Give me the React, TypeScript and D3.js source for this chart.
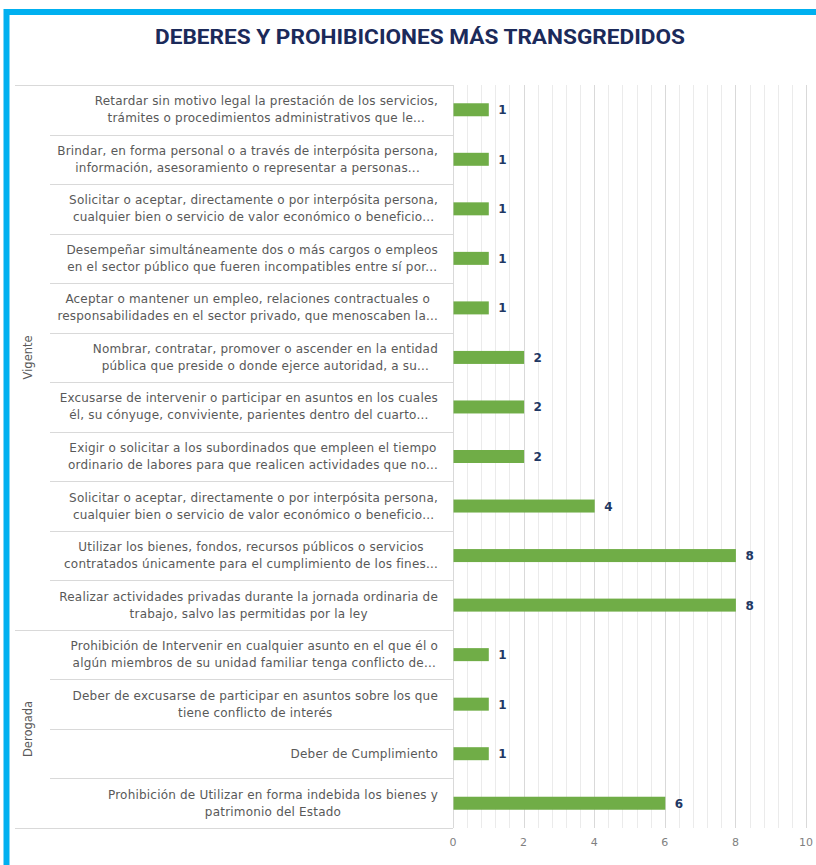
import React, { useEffect, useRef } from 'react'
import * as d3 from 'd3'

const groups = ['Vigente', 'Derogada']
const groupSizes = [11, 4]

const labels = [
  ['Retardar sin motivo legal la prestación de los servicios,', 'trámites o procedimientos administrativos que le...'],
  ['Brindar, en forma personal o a través de interpósita persona,', 'información, asesoramiento o representar a personas...'],
  ['Solicitar o aceptar, directamente o por interpósita persona,', 'cualquier bien o servicio de valor económico o beneficio...'],
  ['Desempeñar simultáneamente dos o más cargos o empleos', 'en el sector público que fueren incompatibles entre sí por...'],
  ['Aceptar o mantener un empleo, relaciones contractuales o', 'responsabilidades en el sector privado, que menoscaben la...'],
  ['Nombrar, contratar, promover o ascender en la entidad', 'pública que preside o donde ejerce autoridad, a su...'],
  ['Excusarse de intervenir o participar en asuntos en los cuales', 'él, su cónyuge, conviviente, parientes dentro del cuarto...'],
  ['Exigir o solicitar a los subordinados que empleen el tiempo', 'ordinario de labores para que realicen actividades que no...'],
  ['Solicitar o aceptar, directamente o por interpósita persona,', 'cualquier bien o servicio de valor económico o beneficio...'],
  ['Utilizar los bienes, fondos, recursos públicos o servicios', 'contratados únicamente para el cumplimiento de los fines...'],
  ['Realizar actividades privadas durante la jornada ordinaria de', 'trabajo, salvo las permitidas por la ley'],
  ['Prohibición de Intervenir en cualquier asunto en el que él o', 'algún miembros de su unidad familiar tenga conflicto de...'],
  ['Deber de excusarse de participar en asuntos sobre los que', 'tiene conflicto de interés'],
  ['Deber de Cumplimiento'],
  ['Prohibición de Utilizar en forma indebida los bienes y', 'patrimonio del Estado'],
]

const values = [1, 1, 1, 1, 1, 2, 2, 2, 4, 8, 8, 1, 1, 1, 6]

const W = 816
const H = 865
const left = 453
const right = 806
const top = 85
const bottom = 828
const textColor = '#595959'
const navy = '#1F3864'

function draw(svgEl: SVGSVGElement) {
  const svg = d3.select(svgEl)
  svg.selectAll('*').remove()

  const x = d3.scaleLinear().domain([0, 10]).range([left, right])
  const y = d3.scaleBand<number>().domain(d3.range(values.length)).range([top, bottom]).padding(0)

  // frame
  svg.append('rect').attr('x', 0).attr('y', 0).attr('width', W).attr('height', H).attr('fill', '#fff')
  svg.append('path')
    .attr('d', `M6.5,${H} V12 H${W}`)
    .attr('fill', 'none').attr('stroke', '#00B0F0').attr('stroke-width', 6)

  svg.append('text')
    .attr('x', 420).attr('y', 44)
    .attr('text-anchor', 'middle')
    .attr('font-family', 'Roboto, sans-serif')
    .attr('font-weight', 700)
    .attr('font-size', 20)
    .attr('fill', '#1B2A5A')
    .attr('textLength', 530)
    .attr('lengthAdjust', 'spacingAndGlyphs')
    .text('DEBERES Y PROHIBICIONES MÁS TRANSGREDIDOS')

  // grid lines (minor every 0.4, major every 2)
  const minor = d3.range(0, 26).map(d => d * 0.4)
  svg.append('g').selectAll('line').data(minor).enter().append('line')
    .attr('x1', d => Math.round(x(d)) + 0.5).attr('x2', d => Math.round(x(d)) + 0.5)
    .attr('y1', top).attr('y2', bottom)
    .attr('stroke', '#ebebeb').attr('stroke-width', 1)
  svg.append('g').selectAll('line').data(x.ticks(5)).enter().append('line')
    .attr('x1', d => Math.round(x(d)) + 0.5).attr('x2', d => Math.round(x(d)) + 0.5)
    .attr('y1', top).attr('y2', bottom)
    .attr('stroke', '#d9d9d9').attr('stroke-width', 1)

  // category separators
  const sep = svg.append('g').attr('stroke', '#d9d9d9').attr('stroke-width', 1)
  const groupStarts: number[] = []
  let acc = 0
  groupSizes.forEach(s => { groupStarts.push(acc); acc += s })
  d3.range(values.length + 1).forEach(i => {
    const yy = i < values.length ? y(i)! : bottom
    const full = i === 0 || i === values.length || groupStarts.includes(i)
    sep.append('line')
      .attr('x1', full ? 15 : 50).attr('x2', left)
      .attr('y1', Math.round(yy) + 0.5).attr('y2', Math.round(yy) + 0.5)
  })
  sep.append('line').attr('x1', left + 0.5).attr('x2', left + 0.5).attr('y1', top).attr('y2', bottom)

  // group labels
  groups.forEach((g, gi) => {
    const s = groupStarts[gi]
    const cy = (y(s)! + (s + groupSizes[gi] < values.length ? y(s + groupSizes[gi])! : bottom)) / 2
    svg.append('text')
      .attr('transform', `translate(32,${cy}) rotate(-90)`)
      .attr('text-anchor', 'middle')
      .attr('font-family', 'DejaVu Sans, sans-serif')
      .attr('font-size', 11.5)
      .attr('fill', textColor)
      .text(g)
  })

  // category labels
  const lab = svg.append('g')
    .attr('font-family', 'DejaVu Sans, sans-serif')
    .attr('font-size', 12)
    .attr('letter-spacing', 0.2)
    .attr('fill', textColor)
    .attr('text-anchor', 'middle')
  labels.forEach((lines, i) => {
    const cy = y(i)! + y.bandwidth() / 2
    const t = lab.append('text')
    lines.forEach((ln, k) => {
      t.append('tspan')
        .attr('x', 0)
        .attr('y', cy + (k - (lines.length - 1) / 2) * 17 + 4)
        .text(ln)
    })
    // right-align the block, lines centred within it
    const bb = (t.node() as SVGTextElement).getBBox()
    t.attr('transform', `translate(${438 - bb.width / 2},0)`)
  })

  // bars
  const barH = 13
  svg.append('g').selectAll('rect').data(values).enter().append('rect')
    .attr('x', x(0) + 0.5)
    .attr('y', (d, i) => y(i)! + y.bandwidth() / 2 - barH / 2)
    .attr('width', d => x(d) - x(0))
    .attr('height', barH)
    .attr('fill', '#70AD47')

  svg.append('g').selectAll('text').data(values).enter().append('text')
    .attr('x', d => x(d) + 10)
    .attr('y', (d, i) => y(i)! + y.bandwidth() / 2 + 4.5)
    .attr('font-family', 'DejaVu Sans, sans-serif')
    .attr('font-weight', 700)
    .attr('font-size', 12)
    .attr('fill', navy)
    .text(d => d)

  // x axis labels
  svg.append('g').selectAll('text').data(x.ticks(5)).enter().append('text')
    .attr('x', d => x(d))
    .attr('y', 846)
    .attr('text-anchor', 'middle')
    .attr('font-family', 'DejaVu Sans, sans-serif')
    .attr('font-size', 11)
    .attr('fill', '#7f7f7f')
    .text(d => d)
}

const App = () => {
  const ref = useRef<SVGSVGElement>(null)
  useEffect(() => {
    if (ref.current) draw(ref.current)
  }, [])
  return (
    <svg ref={ref} width={W} height={H} style={{ position: 'absolute', left: 0, top: 0 }} />
  )
}

export default App
